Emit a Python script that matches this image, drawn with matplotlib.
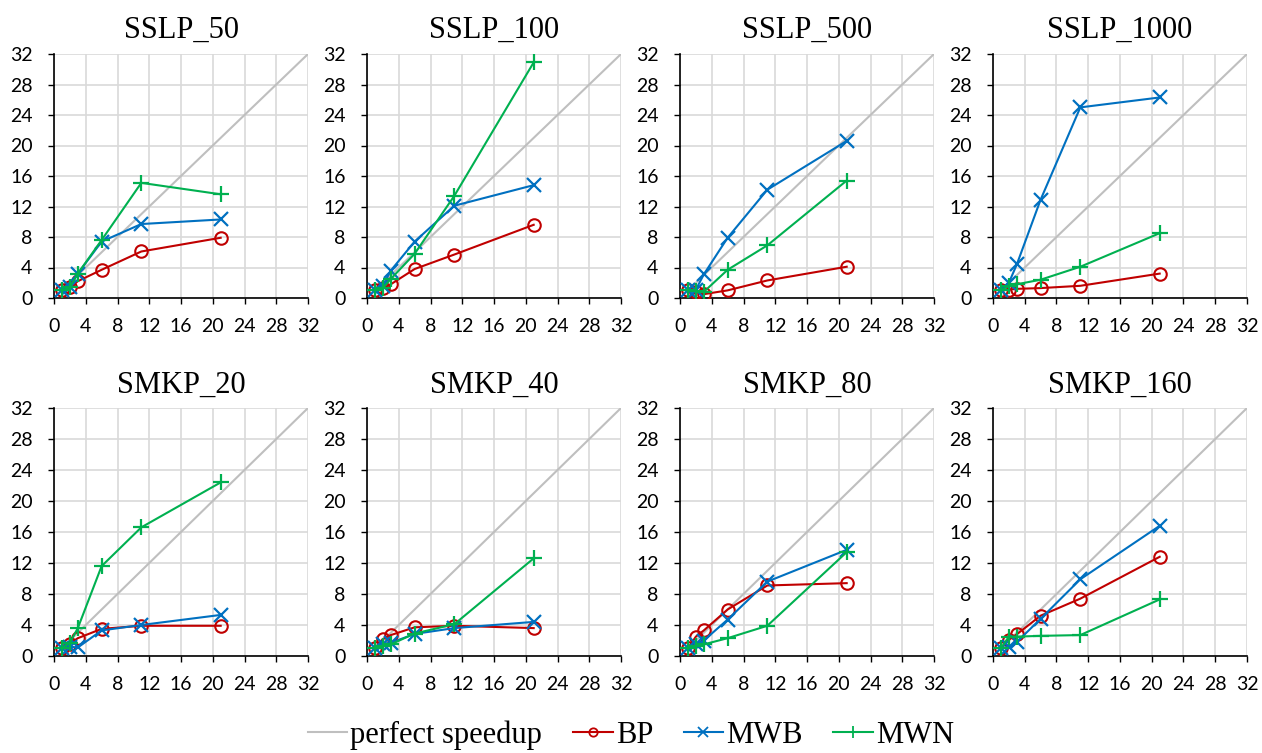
import matplotlib
matplotlib.use("Agg")
import matplotlib.pyplot as plt
from matplotlib.lines import Line2D

# processors used
procs = [1, 2, 3, 6, 11, 21]
perfect = [1, 32]

titles = ["SSLP_50", "SSLP_100", "SSLP_500", "SSLP_1000",
          "SMKP_20", "SMKP_40", "SMKP_80", "SMKP_160"]

# speedups, one list per panel
bp = [
    [1, 1.4, 2.2, 3.7, 6.1, 7.9],
    [1, 1.3, 1.8, 3.8, 5.7, 9.6],
    [1, 0.8, 0.5, 1.0, 2.3, 4.1],
    [1, 1.1, 1.2, 1.3, 1.6, 3.2],
    [1, 1.6, 2.3, 3.5, 3.9, 3.9],
    [1, 2.2, 2.7, 3.7, 3.9, 3.6],
    [1, 2.5, 3.3, 6.0, 9.1, 9.4],
    [1, 2.1, 2.8, 5.2, 7.4, 12.8],
]
mwb = [
    [1, 1.5, 3.2, 7.4, 9.7, 10.3],
    [1, 1.6, 3.6, 7.4, 12.1, 14.8],
    [1, 1.1, 3.1, 7.9, 14.2, 20.6],
    [1, 2.0, 4.4, 12.9, 25.0, 26.3],
    [1, 1.2, 1.1, 3.3, 4.0, 5.3],
    [1, 1.6, 1.7, 2.85, 3.6, 4.4],
    [1, 1.5, 2.0, 4.7, 9.6, 13.7],
    [1, 1.2, 1.8, 4.8, 9.9, 16.8],
]
mwn = [
    [1, 1.4, 3.2, 7.6, 15.1, 13.6],
    [1, 1.3, 2.5, 5.8, 13.4, 30.9],
    [1, 0.9, 0.8, 3.7, 6.9, 15.4],
    [1, 1.6, 1.8, 2.4, 4.1, 8.5],
    [1, 1.7, 3.6, 11.6, 16.6, 22.4],
    [1, 1.3, 1.5, 2.9, 4.1, 12.6],
    [1, 1.3, 1.5, 2.3, 3.9, 13.4],
    [1, 2.5, 2.5, 2.6, 2.7, 7.3],
]

c_bp = "#C00000"
c_mwb = "#0070C0"
c_mwn = "#00B050"
c_perf = "#BFBFBF"

serif = "Liberation Serif"
tickfont = "Lato"

fig = plt.figure(figsize=(12.62, 7.53), dpi=100)

lefts = [54, 367, 680, 993]
rows = [(54, 298), (408, 656)]  # top/bottom pixel of each row of axes
W, H = 1262, 753

for i in range(8):
    r, c = divmod(i, 4)
    top, bot = rows[r]
    ax = fig.add_axes([lefts[c] / W, (H - bot) / H, 254 / W, (bot - top) / H])
    ax.plot(perfect, perfect, color=c_perf, lw=1.5, zorder=2)
    ax.plot(procs, bp[i], color=c_bp, lw=1.5, marker="o", ms=9, mfc="none",
            mew=1.5, zorder=3)
    ax.plot(procs, mwb[i], color=c_mwb, lw=1.5, marker="x", ms=9.5, mew=1.6, zorder=4)
    ax.plot(procs, mwn[i], color=c_mwn, lw=1.5, marker="+", ms=11, mew=1.6, zorder=5)
    ax.set_xlim(0, 32)
    ax.set_ylim(0, 32)
    ax.set_xticks(range(0, 33, 4))
    ax.set_yticks(range(0, 33, 4))
    ax.grid(True, color="#D9D9D9", lw=1.2, zorder=0)
    ax.set_axisbelow(True)
    for s in ["top", "right"]:
        ax.spines[s].set_visible(False)
    for s in ["left", "bottom"]:
        ax.spines[s].set_color("black")
        ax.spines[s].set_linewidth(1.2)
    ax.tick_params(direction="out", length=4.5, width=1, labelsize=14)
    ax.tick_params(axis="x", pad=10)
    ax.tick_params(axis="y", pad=11)
    for lab in ax.get_xticklabels() + ax.get_yticklabels():
        lab.set_fontfamily(tickfont)
    ax.set_title(titles[i], fontsize=22, fontfamily=serif, pad=12 if r == 0 else 11)

handles = [
    Line2D([], [], color=c_perf, lw=1.5),
    Line2D([], [], color=c_bp, lw=1.5, marker="o", ms=6, mfc="none", mew=1.3),
    Line2D([], [], color=c_mwb, lw=1.5, marker="x", ms=7, mew=1.3),
    Line2D([], [], color=c_mwn, lw=1.5, marker="+", ms=8, mew=1.3),
]
fig.legend(handles, ["perfect speedup", "BP", "MWB", "MWN"], loc="center",
           bbox_to_anchor=(0.5, 0.024), ncol=4, frameon=False,
           prop={"family": serif, "size": 22}, handlelength=1.3,
           handletextpad=0.1, columnspacing=1.0, borderpad=0)

fig.savefig("out.png", dpi=100)
